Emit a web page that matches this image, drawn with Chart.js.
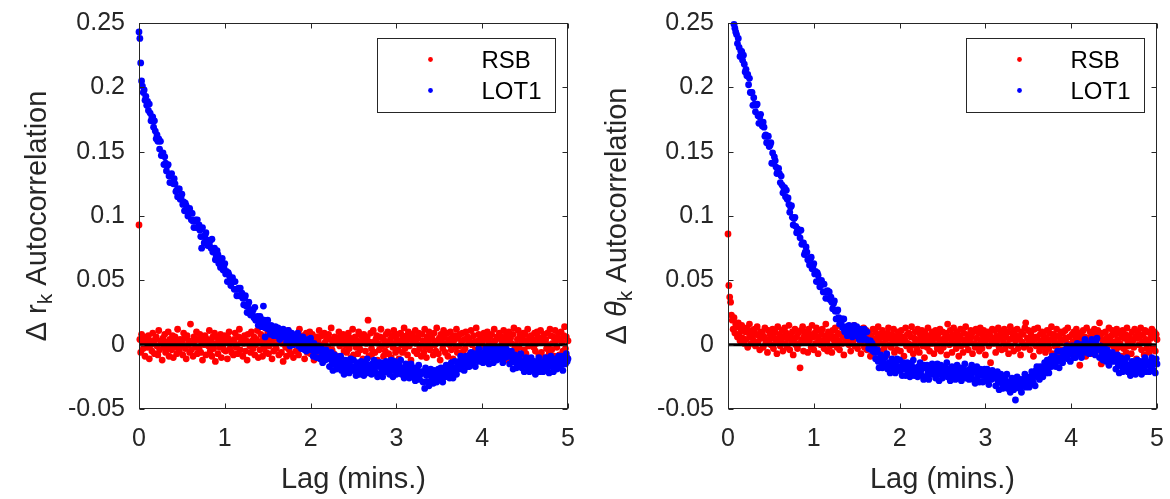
<!DOCTYPE html>
<html>
<head>
<meta charset="utf-8">
<title>Autocorrelation</title>
<script src="https://cdn.jsdelivr.net/npm/chart.js@4.4.1/dist/chart.umd.min.js"></script>
<style>
  html, body { margin: 0; padding: 0; background: #fff; }
  #wrap { position: relative; width: 1170px; height: 499px; }
  .panel { position: absolute; top: 0; width: 585px; height: 499px; }
</style>
</head>
<body>
<div id="wrap">
  <div class="panel" style="left:0"><canvas id="chartR" width="585" height="499"></canvas></div>
  <div class="panel" style="left:585px"><canvas id="chartT" width="585" height="499"></canvas></div>
</div>
<script>
// lag grid: one sample every 0.01 min, 0 .. 5 min
const lagStep = 0.01;
const xTicks = [0, 1, 2, 3, 4, 5];
const yTicks = [-0.05, 0, 0.05, 0.1, 0.15, 0.2, 0.25];
const zeroLine = [0, 5];

// left panel: delta r_k autocorrelation
const rsbR = [
  0.093, 0.004, -0.006, 0.008, 0.002, -0.003, 0.006, -0.009, 0.001, 0.005,
  -0.002, 0.007, -0.011, 0.003, 0.000, -0.005, 0.009, 0.002, -0.007, 0.004,
  0.006, -0.001, -0.008, 0.011, -0.004, 0.003, 0.001, -0.012, 0.005, -0.002,
  0.008, -0.006, 0.002, -0.003, 0.010, -0.009, 0.004, 0.000, -0.004, 0.007,
  -0.010, 0.003, 0.006, -0.002, -0.007, 0.012, 0.001, -0.005, 0.004, -0.001,
  0.002, -0.008, 0.009, 0.005, -0.003, -0.011, 0.007, 0.000, 0.003, -0.006,
  0.016, -0.004, 0.001, -0.009, 0.006, 0.003, -0.002, 0.010, -0.007, 0.004,
  -0.003, 0.008, -0.006, 0.002, -0.012, 0.005, 0.000, 0.007, -0.008, 0.001,
  0.004, -0.001, 0.011, -0.005, 0.003, -0.009, 0.006, -0.003, 0.009, -0.013,
  0.001, 0.006, -0.007, 0.003, -0.002, 0.008, -0.010, 0.004, 0.000, -0.004,
  0.007, -0.005, 0.002, -0.011, 0.005, 0.010, -0.003, 0.001, -0.006, 0.003,
  -0.008, 0.004, 0.009, -0.002, 0.000, -0.007, 0.006, 0.012, -0.004, 0.002,
  0.005, -0.009, 0.001, 0.007, -0.005, 0.003, -0.012, 0.008, 0.002, -0.001,
  -0.006, 0.010, 0.003, -0.003, 0.006, -0.008, 0.000, 0.004, 0.011, -0.010,
  0.002, -0.004, 0.008, 0.001, -0.009, 0.005, -0.002, 0.013, -0.006, 0.003,
  0.009, -0.007, -0.001, 0.006, 0.003, -0.011, 0.004, -0.005, 0.007, 0.000,
  -0.003, 0.005, 0.010, -0.008, 0.002, 0.006, -0.006, 0.001, -0.013, 0.008,
  0.004, -0.002, -0.009, 0.007, 0.011, -0.004, 0.003, -0.007, 0.005, 0.000,
  -0.010, 0.006, 0.002, -0.005, 0.008, 0.001, -0.008, 0.012, -0.003, 0.004,
  0.007, -0.001, 0.005, -0.011, 0.003, 0.009, -0.006, 0.002, -0.004, 0.010,
  -0.007, 0.003, 0.008, -0.002, -0.012, 0.005, 0.001, 0.006, -0.009, 0.004,
  0.011, -0.005, 0.000, 0.007, -0.003, -0.008, 0.009, 0.002, -0.006, 0.005,
  -0.002, 0.008, -0.010, 0.004, 0.013, -0.004, 0.001, -0.007, 0.006, 0.003,
  0.005, -0.009, 0.002, 0.010, -0.001, 0.006, -0.011, 0.003, 0.008, -0.005,
  0.000, 0.007, -0.006, 0.003, 0.009, -0.003, 0.005, -0.010, 0.001, 0.012,
  -0.008, 0.004, 0.006, -0.002, 0.003, -0.007, 0.010, 0.000, -0.004, 0.007,
  0.003, -0.011, 0.008, 0.005, -0.005, 0.001, 0.006, 0.019, -0.009, 0.002,
  0.009, -0.003, -0.007, 0.011, 0.002, -0.006, 0.004, 0.007, -0.012, 0.001,
  -0.004, 0.006, 0.012, -0.001, 0.005, -0.009, 0.003, -0.005, 0.008, 0.000,
  0.010, -0.007, 0.002, 0.004, -0.010, 0.007, -0.002, 0.011, 0.001, -0.006,
  0.005, 0.008, -0.004, -0.011, 0.003, 0.009, 0.000, -0.006, 0.006, 0.013,
  -0.003, 0.002, 0.007, -0.008, 0.010, -0.001, 0.004, -0.012, 0.008, 0.003,
  0.006, -0.005, 0.011, 0.001, -0.007, 0.005, 0.009, -0.003, 0.000, -0.009,
  0.008, 0.003, -0.006, 0.012, -0.002, -0.010, 0.006, 0.002, 0.010, -0.004,
  -0.001, 0.007, 0.004, -0.008, 0.009, 0.000, -0.005, 0.013, 0.003, -0.007,
  0.005, -0.012, 0.008, 0.002, -0.003, 0.011, 0.006, -0.006, 0.001, 0.009,
  -0.009, 0.004, 0.000, 0.010, -0.004, 0.006, -0.011, 0.003, 0.007, -0.002,
  0.012, -0.006, 0.005, -0.001, 0.008, -0.008, 0.002, 0.009, -0.005, 0.004,
  -0.003, 0.010, -0.009, 0.006, 0.001, 0.004, -0.007, 0.011, 0.000, -0.010,
  0.007, 0.002, -0.004, 0.013, -0.006, 0.003, 0.008, -0.002, 0.005, -0.008,
  0.001, -0.011, 0.009, 0.004, -0.003, 0.007, 0.010, -0.006, 0.002, 0.006,
  -0.005, 0.008, 0.000, -0.009, 0.012, 0.003, -0.002, 0.006, -0.010, 0.005,
  0.009, -0.004, 0.006, 0.002, -0.007, 0.011, -0.001, 0.004, 0.007, -0.012,
  0.003, 0.010, -0.008, 0.005, 0.001, -0.005, 0.008, 0.013, -0.003, 0.000,
  -0.006, 0.004, 0.011, -0.002, 0.007, -0.009, 0.002, 0.006, 0.009, -0.004,
  0.008, -0.007, 0.003, 0.012, -0.001, 0.005, -0.011, 0.007, 0.000, 0.004,
  -0.002, 0.009, -0.005, 0.001, 0.010, 0.006, -0.008, 0.003, 0.011, -0.006,
  0.005, 0.002, 0.008, -0.010, 0.004, -0.003, 0.009, 0.000, -0.007, 0.012,
  0.007, -0.004, 0.001, 0.006, -0.009, 0.011, 0.003, -0.002, 0.005, 0.009,
  -0.008, 0.004, 0.010, 0.002, -0.005, 0.007, 0.014, -0.003, 0.006, -0.010,
  0.003
];

const lotR = [
  0.243, 0.238, 0.219, 0.205, 0.201, 0.196, 0.198, 0.190, 0.193, 0.186,
  0.189, 0.182, 0.187, 0.180, 0.174, 0.177, 0.177, 0.169, 0.174, 0.166,
  0.160, 0.163, 0.158, 0.160, 0.152, 0.158, 0.147, 0.148, 0.149, 0.140,
  0.146, 0.141, 0.135, 0.139, 0.140, 0.131, 0.126, 0.131, 0.133, 0.126,
  0.125, 0.129, 0.125, 0.119, 0.120, 0.115, 0.121, 0.121, 0.113, 0.114,
  0.117, 0.109, 0.111, 0.104, 0.110, 0.108, 0.104, 0.100, 0.103, 0.106,
  0.103, 0.097, 0.102, 0.096, 0.091, 0.096, 0.097, 0.091, 0.097, 0.091,
  0.093, 0.089, 0.084, 0.075, 0.091, 0.084, 0.079, 0.085, 0.087, 0.081,
  0.077, 0.081, 0.078, 0.081, 0.075, 0.082, 0.072, 0.074, 0.075, 0.066,
  0.069, 0.073, 0.070, 0.063, 0.065, 0.060, 0.066, 0.067, 0.058, 0.060,
  0.063, 0.055, 0.057, 0.049, 0.056, 0.054, 0.050, 0.046, 0.049, 0.052,
  0.049, 0.043, 0.049, 0.043, 0.038, 0.043, 0.044, 0.038, 0.044, 0.038,
  0.040, 0.036, 0.031, 0.036, 0.038, 0.030, 0.025, 0.031, 0.033, 0.027,
  0.023, 0.027, 0.024, 0.027, 0.021, 0.029, 0.019, 0.021, 0.022, 0.015,
  0.018, 0.022, 0.020, 0.014, 0.017, 0.030, 0.019, 0.006, 0.013, 0.015,
  0.019, 0.012, 0.014, 0.008, 0.015, 0.014, 0.011, 0.007, 0.011, 0.014,
  0.012, 0.007, 0.013, 0.008, 0.004, 0.009, 0.011, 0.006, 0.012, 0.007,
  0.010, 0.006, 0.002, 0.008, 0.011, 0.003, -0.001, 0.006, 0.009, 0.003,
  0.000, 0.005, 0.003, 0.006, 0.001, 0.009, -0.001, 0.002, 0.004, -0.003,
  0.000, 0.006, 0.004, -0.004, 0.000, -0.005, 0.003, 0.004, -0.004, 0.000,
  0.005, -0.004, -0.001, -0.009, 0.001, -0.002, -0.005, -0.010, -0.005, -0.001,
  -0.004, -0.011, -0.002, -0.009, -0.014, -0.008, -0.005, -0.012, -0.004, -0.011,
  -0.007, -0.011, -0.017, -0.010, -0.006, -0.015, -0.020, -0.012, -0.008, -0.015,
  -0.019, -0.013, -0.016, -0.011, -0.017, -0.009, -0.020, -0.016, -0.014, -0.023,
  -0.018, -0.012, -0.015, -0.021, -0.017, -0.022, -0.013, -0.011, -0.020, -0.017,
  -0.012, -0.020, -0.017, -0.024, -0.014, -0.016, -0.019, -0.023, -0.018, -0.013,
  -0.021, -0.014, -0.024, -0.017, -0.015, -0.020, -0.011, -0.022, -0.018, -0.016,
  -0.017, -0.023, -0.015, -0.020, -0.012, -0.018, -0.022, -0.016, -0.025, -0.014,
  -0.017, -0.023, -0.014, -0.020, -0.025, -0.018, -0.015, -0.021, -0.013, -0.019,
  -0.014, -0.018, -0.023, -0.016, -0.012, -0.020, -0.025, -0.017, -0.013, -0.019,
  -0.023, -0.017, -0.019, -0.015, -0.021, -0.012, -0.023, -0.019, -0.018, -0.026,
  -0.021, -0.015, -0.018, -0.025, -0.021, -0.026, -0.017, -0.015, -0.024, -0.021,
  -0.025, -0.018, -0.028, -0.021, -0.019, -0.025, -0.016, -0.027, -0.023, -0.021,
  -0.022, -0.029, -0.021, -0.034, -0.018, -0.024, -0.029, -0.023, -0.032, -0.021,
  -0.019, -0.027, -0.024, -0.030, -0.020, -0.022, -0.025, -0.029, -0.024, -0.019,
  -0.021, -0.027, -0.018, -0.024, -0.029, -0.022, -0.019, -0.025, -0.016, -0.022,
  -0.018, -0.022, -0.026, -0.019, -0.014, -0.022, -0.026, -0.018, -0.013, -0.019,
  -0.023, -0.017, -0.019, -0.013, -0.018, -0.009, -0.019, -0.015, -0.013, -0.020,
  -0.015, -0.009, -0.011, -0.017, -0.013, -0.017, -0.008, -0.006, -0.014, -0.011,
  -0.014, -0.007, -0.017, -0.010, -0.007, -0.012, -0.003, -0.013, -0.009, -0.007,
  -0.008, -0.014, -0.006, -0.011, -0.003, -0.009, -0.013, -0.006, -0.015, -0.004,
  -0.002, -0.010, -0.007, -0.014, -0.003, -0.005, -0.008, -0.012, -0.007, -0.002,
  -0.005, -0.011, -0.002, -0.008, -0.014, -0.007, -0.004, -0.010, -0.003, -0.009,
  -0.005, -0.009, -0.015, -0.008, -0.005, -0.013, -0.019, -0.011, -0.008, -0.014,
  -0.018, -0.012, -0.014, -0.010, -0.016, -0.007, -0.018, -0.014, -0.013, -0.021,
  -0.016, -0.010, -0.013, -0.020, -0.016, -0.021, -0.012, -0.010, -0.019, -0.016,
  -0.020, -0.013, -0.023, -0.016, -0.014, -0.019, -0.010, -0.021, -0.017, -0.014,
  -0.015, -0.021, -0.013, -0.018, -0.010, -0.016, -0.020, -0.013, -0.022, -0.011,
  -0.009, -0.017, -0.014, -0.021, -0.011, -0.013, -0.015, -0.019, -0.014, -0.009,
  -0.012, -0.018, -0.009, -0.015, -0.020, -0.013, -0.009, -0.015, -0.007, -0.013,
  -0.011
];

// right panel: delta theta_k autocorrelation
const rsbT = [
  0.086, 0.046, 0.037, 0.033, 0.023, 0.019, 0.012, 0.021, 0.009, 0.016,
  0.014, 0.006, 0.017, 0.008, 0.003, 0.012, 0.015, 0.005, 0.011, 0.001,
  0.010, 0.004, 0.013, -0.002, 0.009, 0.016, 0.006, 0.001, 0.011, 0.007,
  0.003, 0.012, -0.001, 0.008, 0.014, 0.002, 0.007, -0.004, 0.010, 0.005,
  0.009, -0.002, 0.006, 0.013, 0.001, 0.004, -0.006, 0.011, 0.003, 0.008,
  0.000, 0.007, 0.012, -0.003, 0.005, 0.010, 0.002, -0.007, 0.014, 0.004,
  0.008, -0.001, 0.003, 0.011, -0.005, 0.006, 0.013, 0.001, 0.009, -0.002,
  0.005, 0.015, -0.004, 0.007, 0.002, 0.010, -0.008, 0.004, 0.012, 0.000,
  0.006, -0.003, 0.009, 0.001, -0.018, 0.011, 0.004, 0.014, -0.005, 0.007,
  0.002, 0.010, 0.005, -0.006, 0.012, 0.003, 0.008, -0.002, 0.015, 0.006,
  -0.004, 0.009, 0.001, 0.013, 0.006, -0.007, 0.004, 0.011, 0.000, 0.008,
  0.012, 0.003, -0.003, 0.007, 0.016, 0.002, -0.005, 0.010, 0.005, -0.001,
  0.007, -0.006, 0.011, 0.004, 0.000, 0.013, 0.006, -0.002, 0.009, 0.003,
  -0.004, 0.008, 0.014, 0.001, 0.006, -0.008, 0.010, 0.005, 0.002, 0.012,
  0.004, 0.000, 0.009, -0.005, 0.011, 0.007, 0.003, 0.015, -0.001, 0.006,
  0.010, -0.003, 0.005, 0.012, 0.001, -0.007, 0.008, 0.003, 0.013, -0.002,
  0.006, 0.011, -0.004, 0.002, 0.009, 0.004, -0.009, 0.007, 0.000, 0.012,
  0.003, -0.006, 0.010, 0.005, -0.001, 0.014, 0.002, 0.008, -0.005, 0.006,
  0.011, 0.001, -0.003, 0.007, 0.004, -0.008, 0.009, 0.013, 0.000, 0.005,
  -0.002, 0.008, 0.003, 0.012, -0.006, 0.006, 0.001, -0.004, 0.010, 0.004,
  0.007, -0.005, 0.011, 0.002, 0.006, -0.009, 0.004, 0.013, -0.001, 0.008,
  0.001, 0.009, -0.004, 0.006, 0.014, 0.000, -0.007, 0.005, 0.010, 0.003,
  -0.003, 0.012, 0.004, -0.006, 0.008, 0.002, 0.011, -0.001, 0.006, -0.010,
  0.009, 0.003, -0.002, 0.013, 0.005, -0.005, 0.007, 0.001, 0.010, 0.004,
  -0.007, 0.006, 0.011, 0.000, -0.003, 0.008, 0.004, 0.012, -0.005, 0.002,
  0.010, -0.002, 0.005, 0.003, 0.009, -0.008, 0.016, 0.006, 0.000, 0.011,
  0.004, -0.006, 0.008, 0.013, 0.001, 0.006, -0.003, 0.010, 0.002, -0.009,
  0.007, 0.012, -0.001, 0.004, -0.006, 0.009, 0.003, 0.014, 0.000, 0.005,
  -0.004, 0.008, 0.002, 0.011, 0.006, -0.007, 0.010, 0.001, -0.002, 0.012,
  0.005, 0.000, 0.009, -0.005, 0.013, 0.003, -0.003, 0.007, 0.011, 0.002,
  -0.008, 0.006, 0.004, 0.010, -0.001, 0.008, -0.014, 0.003, 0.012, 0.005,
  0.001, 0.011, -0.006, 0.007, 0.003, 0.013, -0.002, 0.005, 0.009, -0.004,
  0.008, 0.002, 0.012, -0.003, 0.006, 0.000, 0.010, -0.007, 0.004, 0.014,
  -0.001, 0.009, 0.005, -0.005, 0.011, 0.003, 0.007, 0.012, -0.003, 0.006,
  0.004, -0.008, 0.010, 0.002, 0.008, -0.002, 0.013, 0.017, 0.000, 0.005,
  0.011, 0.003, -0.004, 0.009, 0.001, 0.006, -0.009, 0.012, 0.004, -0.001,
  0.006, 0.013, 0.000, -0.005, 0.008, 0.003, 0.010, -0.002, 0.007, 0.002,
  -0.006, 0.005, 0.011, 0.001, -0.003, 0.009, 0.004, 0.014, -0.007, 0.008,
  0.003, -0.001, 0.007, 0.012, 0.000, -0.008, 0.006, 0.002, 0.010, -0.004,
  0.009, 0.004, -0.006, 0.011, 0.005, 0.001, 0.013, -0.003, 0.006, 0.000,
  -0.005, 0.008, 0.002, 0.010, -0.002, 0.006, 0.012, -0.007, 0.004, 0.009,
  -0.016, 0.003, 0.007, -0.004, 0.011, 0.001, 0.006, -0.009, 0.013, 0.002,
  0.005, -0.003, 0.010, 0.004, -0.007, 0.008, 0.000, 0.012, 0.003, -0.005,
  0.007, 0.011, -0.002, 0.017, 0.005, -0.015, 0.009, 0.001, -0.006, 0.004,
  0.010, -0.004, 0.006, 0.000, 0.013, 0.003, -0.008, 0.007, 0.011, -0.001,
  0.002, 0.008, -0.005, 0.012, 0.004, -0.002, 0.009, 0.001, -0.009, 0.006,
  0.011, -0.003, 0.005, 0.008, -0.006, 0.013, 0.002, -0.001, 0.007, 0.004,
  -0.007, 0.010, 0.003, -0.002, 0.012, 0.006, -0.011, 0.005, 0.009, 0.000,
  0.006, 0.013, -0.004, 0.002, 0.008, -0.008, 0.011, 0.004, -0.003, 0.010,
  0.001, -0.006, 0.009, 0.005, 0.012, -0.002, 0.007, 0.010, -0.005, 0.008,
  0.004
];

// LOT1 is above the axis (off the plot) for the first few lags: null there
const lotT = [
  null, null, null, null, null, null, null, 0.249, 0.246, 0.243,
  0.241, 0.234, 0.238, 0.231, 0.224, 0.228, 0.228, 0.221, 0.225, 0.218,
  0.212, 0.214, 0.209, 0.210, 0.202, 0.207, 0.196, 0.196, 0.196, 0.186,
  0.192, 0.187, 0.181, 0.186, 0.187, 0.178, 0.172, 0.177, 0.179, 0.172,
  0.170, 0.173, 0.169, 0.162, 0.163, 0.157, 0.162, 0.162, 0.154, 0.155,
  0.157, 0.141, 0.149, 0.141, 0.146, 0.143, 0.138, 0.133, 0.135, 0.137,
  0.133, 0.126, 0.131, 0.124, 0.118, 0.122, 0.122, 0.115, 0.120, 0.113,
  0.114, 0.109, 0.103, 0.107, 0.108, 0.099, 0.093, 0.098, 0.099, 0.092,
  0.087, 0.090, 0.087, 0.089, 0.083, 0.089, 0.078, 0.079, 0.079, 0.070,
  0.072, 0.076, 0.072, 0.066, 0.067, 0.062, 0.067, 0.068, 0.059, 0.061,
  0.063, 0.055, 0.057, 0.049, 0.056, 0.054, 0.050, 0.045, 0.048, 0.050,
  0.047, 0.041, 0.047, 0.041, 0.036, 0.041, 0.042, 0.036, 0.041, 0.035,
  0.037, 0.033, 0.028, 0.032, 0.034, 0.026, 0.020, 0.026, 0.027, 0.021,
  0.016, 0.020, 0.017, 0.020, 0.013, 0.020, 0.010, 0.013, 0.014, 0.007,
  0.010, 0.015, 0.013, 0.008, 0.010, 0.006, 0.013, 0.015, 0.007, 0.010,
  0.014, 0.007, 0.010, 0.004, 0.012, 0.011, 0.008, 0.004, 0.008, 0.012,
  0.010, 0.004, 0.010, 0.003, -0.003, 0.003, 0.003, -0.004, 0.001, -0.005,
  -0.002, -0.006, -0.011, -0.006, -0.004, -0.013, -0.018, -0.011, -0.008, -0.014,
  -0.018, -0.012, -0.015, -0.010, -0.016, -0.007, -0.019, -0.015, -0.014, -0.022,
  -0.017, -0.011, -0.015, -0.021, -0.017, -0.022, -0.013, -0.011, -0.020, -0.017,
  -0.012, -0.020, -0.017, -0.024, -0.014, -0.016, -0.019, -0.024, -0.019, -0.014,
  -0.022, -0.015, -0.025, -0.018, -0.016, -0.021, -0.012, -0.024, -0.020, -0.018,
  -0.019, -0.025, -0.017, -0.022, -0.014, -0.020, -0.024, -0.018, -0.027, -0.016,
  -0.018, -0.025, -0.016, -0.022, -0.027, -0.020, -0.017, -0.023, -0.015, -0.021,
  -0.017, -0.021, -0.026, -0.019, -0.015, -0.023, -0.028, -0.020, -0.016, -0.022,
  -0.026, -0.020, -0.022, -0.017, -0.023, -0.014, -0.025, -0.021, -0.019, -0.028,
  -0.023, -0.017, -0.020, -0.026, -0.022, -0.027, -0.018, -0.016, -0.024, -0.021,
  -0.025, -0.018, -0.028, -0.021, -0.019, -0.024, -0.015, -0.026, -0.022, -0.020,
  -0.021, -0.027, -0.019, -0.024, -0.016, -0.022, -0.027, -0.021, -0.030, -0.019,
  -0.017, -0.025, -0.022, -0.029, -0.019, -0.021, -0.024, -0.029, -0.024, -0.019,
  -0.022, -0.028, -0.019, -0.025, -0.031, -0.024, -0.021, -0.027, -0.020, -0.026,
  -0.022, -0.026, -0.032, -0.025, -0.021, -0.029, -0.035, -0.027, -0.023, -0.030,
  -0.034, -0.028, -0.030, -0.026, -0.032, -0.023, -0.034, -0.031, -0.029, -0.037,
  -0.032, -0.026, -0.029, -0.035, -0.031, -0.043, -0.027, -0.025, -0.033, -0.030,
  -0.034, -0.027, -0.037, -0.029, -0.027, -0.032, -0.023, -0.033, -0.029, -0.027,
  -0.028, -0.033, -0.025, -0.029, -0.021, -0.027, -0.030, -0.024, -0.032, -0.020,
  -0.017, -0.025, -0.021, -0.027, -0.017, -0.019, -0.021, -0.025, -0.019, -0.014,
  -0.016, -0.022, -0.012, -0.018, -0.022, -0.015, -0.011, -0.017, -0.009, -0.014,
  -0.009, -0.013, -0.017, -0.010, -0.005, -0.013, -0.018, -0.010, -0.005, -0.011,
  -0.014, -0.008, -0.010, -0.004, -0.010, -0.001, -0.011, -0.007, -0.005, -0.013,
  -0.007, -0.001, -0.004, -0.010, -0.005, -0.010, -0.001, 0.001, -0.006, -0.003,
  -0.007, 0.000, -0.010, -0.003, 0.000, -0.005, 0.004, -0.006, -0.002, 0.000,
  -0.001, -0.007, 0.001, -0.004, 0.004, -0.002, -0.005, 0.001, -0.008, 0.003,
  0.005, -0.004, -0.002, -0.010, -0.001, -0.004, -0.007, -0.012, -0.008, -0.003,
  -0.006, -0.013, -0.004, -0.011, -0.016, -0.009, -0.007, -0.013, -0.006, -0.012,
  -0.009, -0.013, -0.019, -0.012, -0.008, -0.016, -0.022, -0.014, -0.010, -0.017,
  -0.021, -0.015, -0.017, -0.013, -0.019, -0.010, -0.021, -0.018, -0.016, -0.024,
  -0.019, -0.013, -0.016, -0.022, -0.018, -0.023, -0.014, -0.012, -0.020, -0.017,
  -0.020, -0.013, -0.023, -0.016, -0.014, -0.019, -0.010, -0.021, -0.016, -0.014,
  -0.015, -0.021, -0.013, -0.018, -0.010, -0.016, -0.020, -0.014, -0.022, -0.011,
  -0.015
];

const FONT = "'Liberation Sans', Arial, Helvetica, sans-serif";
const INK = '#262626';
Chart.defaults.font.family = FONT;

function toPoints(values) {
  const pts = [];
  values.forEach((v, i) => {
    if (v !== null) pts.push({ x: i * lagStep, y: v });
  });
  return pts;
}

// MATLAB-like box, inward ticks, y title with subscript and inset legend
const decor = {
  id: 'decor',
  afterDatasetsDraw(chart, args, opts) {
    const ctx = chart.ctx;
    const a = chart.chartArea;
    const xs = chart.scales.x, ys = chart.scales.y;
    ctx.save();
    ctx.strokeStyle = INK;
    ctx.lineWidth = 1;
    const L = Math.round(a.left) + 0.5, R = Math.round(a.right) - 0.5;
    const T = Math.round(a.top) + 0.5, B = Math.round(a.bottom) - 0.5;
    ctx.strokeRect(L, T, R - L, B - T);
    ctx.beginPath();
    xTicks.forEach(v => {
      const px = Math.round(xs.getPixelForValue(v)) + 0.5;
      ctx.moveTo(px, B); ctx.lineTo(px, B - 5);
      ctx.moveTo(px, T); ctx.lineTo(px, T + 5);
    });
    yTicks.forEach(v => {
      const py = Math.round(ys.getPixelForValue(v)) + 0.5;
      ctx.moveTo(L, py); ctx.lineTo(L + 5, py);
      ctx.moveTo(R, py); ctx.lineTo(R - 5, py);
    });
    ctx.stroke();
    ctx.restore();
  },
  afterDraw(chart, args, opts) {
    const ctx = chart.ctx;
    const a = chart.chartArea;
    ctx.save();
    ctx.fillStyle = INK;

    // x title
    ctx.font = '29px ' + FONT;
    ctx.textAlign = 'center';
    ctx.textBaseline = 'alphabetic';
    ctx.fillText('Lag (mins.)', (a.left + a.right) / 2, 488);

    // y title, rotated, with subscript k
    const parts = [
      { t: '\u0394', font: '29px ' + FONT, dy: 0 },
      { t: ' ', font: '29px ' + FONT, dy: 0 },
      { t: opts.symbol, font: (opts.italic ? 'italic ' : '') + '29px ' + FONT, dy: 0 },
      { t: 'k', font: '21px ' + FONT, dy: 8 },
      { t: ' Autocorrelation', font: '29px ' + FONT, dy: 0 }
    ];
    let total = 0;
    parts.forEach(p => { ctx.font = p.font; p.w = ctx.measureText(p.t).width; total += p.w; });
    ctx.translate(opts.titleX, (a.top + a.bottom) / 2);
    ctx.rotate(-Math.PI / 2);
    ctx.textAlign = 'left';
    ctx.textBaseline = 'middle';
    let cx = -total / 2;
    parts.forEach(p => {
      ctx.font = p.font;
      ctx.fillText(p.t, cx, p.dy);
      cx += p.w;
    });
    ctx.setTransform(1, 0, 0, 1, 0, 0);

    // legend box inside the plot, top right
    const bw = 178, bh = 74;
    const bx = Math.round(a.right - 13 - bw) + 0.5, by = Math.round(a.top + 15) + 0.5;
    ctx.fillStyle = '#fff';
    ctx.fillRect(bx, by, bw, bh);
    ctx.strokeStyle = INK;
    ctx.lineWidth = 1;
    ctx.strokeRect(bx, by, bw, bh);
    const items = chart.data.datasets.filter(d => d.inLegend);
    items.forEach((d, i) => {
      const y = by + 21 + i * 31;
      ctx.fillStyle = d.backgroundColor;
      ctx.beginPath();
      ctx.arc(bx + 53, y, 2.4, 0, Math.PI * 2);
      ctx.fill();
      ctx.fillStyle = '#000';
      ctx.font = '24px ' + FONT;
      ctx.textAlign = 'left';
      ctx.textBaseline = 'middle';
      ctx.fillText(d.label, bx + 104, y + 2);
    });
    ctx.restore();
  }
};

function makeChart(id, rsb, lot, cfg) {
  const chart = new Chart(document.getElementById(id), {
    type: 'scatter',
    data: {
      datasets: [
        { label: 'RSB', inLegend: true, data: toPoints(rsb), backgroundColor: '#ff0000',
          pointRadius: 3.4, borderWidth: 0, order: 2, clip: 6 },
        { label: 'LOT1', inLegend: true, data: toPoints(lot), backgroundColor: '#0000ff',
          pointRadius: 3.4, borderWidth: 0, order: 1, clip: 6 },
        { label: 'zero', type: 'line', data: zeroLine.map(x => ({ x: x, y: 0 })),
          borderColor: '#000', borderWidth: 3, pointRadius: 0, order: 0 }
      ]
    },
    options: {
      responsive: false,
      animation: false,
      events: [],
      layout: { padding: { top: cfg.area.top, right: 585 - cfg.area.right, left: 0, bottom: 0 } },
      plugins: {
        legend: { display: false },
        tooltip: { enabled: false },
        decor: { symbol: cfg.symbol, italic: cfg.italic, titleX: cfg.titleX }
      },
      scales: {
        x: {
          type: 'linear', min: 0, max: 5,
          // no extra room for the end labels: the plot box is placed by hand
          afterFit: s => { s.height = cfg.xHeight; s.paddingLeft = 0; s.paddingRight = 0; },
          grid: { display: false, drawTicks: false },
          border: { display: false },
          ticks: { stepSize: 1, padding: 15, maxRotation: 0, color: INK, font: { size: 25 } }
        },
        y: {
          type: 'linear', min: -0.05, max: 0.25,
          afterFit: s => { s.width = cfg.axisLeft; s.paddingTop = 0; s.paddingBottom = 0; },
          grid: { display: false, drawTicks: false },
          border: { display: false },
          ticks: {
            stepSize: 0.05, padding: 14, color: INK, font: { size: 25 },
            callback: v => String(+v.toFixed(2))
          }
        }
      }
    },
    plugins: [decor]
  });

  // nudge paddings until the plot box sits where the reference has it
  const pad = chart.config.options.layout.padding;
  for (let k = 0; k < 4; k++) {
    const a = chart.chartArea;
    const dl = Math.round(cfg.area.left - a.left);
    const dr = Math.round(a.right - cfg.area.right);
    const dt = Math.round(cfg.area.top - a.top);
    const db = Math.round(a.bottom - cfg.area.bottom);
    if (!dl && !dr && !dt && !db) break;
    cfg.axisLeft += dl;
    pad.right += dr;
    pad.top += dt;
    cfg.xHeight += db;
    chart.update('none');
  }
  return chart;
}

makeChart('chartR', rsbR, lotR, {
  area: { left: 139, right: 568, top: 23, bottom: 409 },
  axisLeft: 139, xHeight: 90, titleX: 38, symbol: 'r', italic: false
});
makeChart('chartT', rsbT, lotT, {
  area: { left: 143, right: 572, top: 23, bottom: 409 },
  axisLeft: 143, xHeight: 90, titleX: 33, symbol: '\u03B8', italic: true
});
</script>
</body>
</html>
